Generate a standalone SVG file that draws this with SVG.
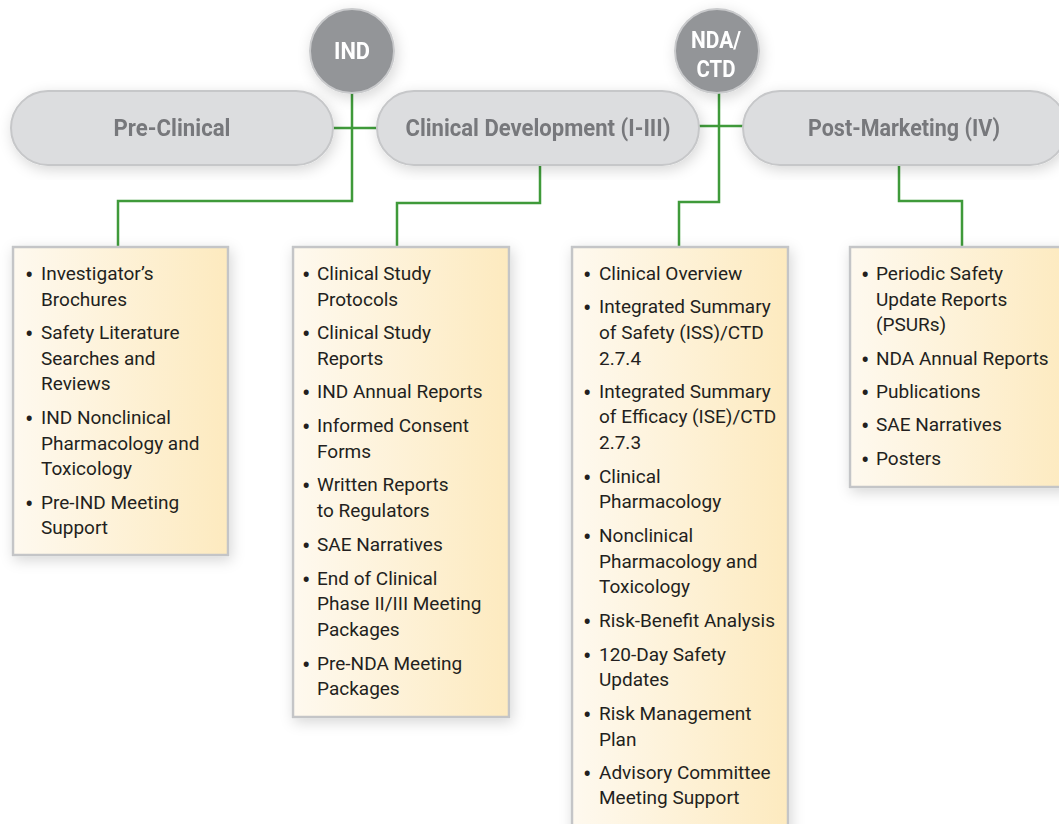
<svg xmlns="http://www.w3.org/2000/svg" width="1059" height="824" viewBox="0 0 1059 824">
<defs>
<filter id="sh" x="-20%" y="-20%" width="140%" height="140%">
<feDropShadow dx="2" dy="4" stdDeviation="7" flood-color="#000" flood-opacity="0.16"/>
</filter>
<linearGradient id="cream" x1="0" y1="0" x2="1" y2="0">
<stop offset="0" stop-color="#fef9ef"/>
<stop offset="1" stop-color="#fdeabf"/>
</linearGradient>
<style>
.pill{fill:#dcdddf;stroke:#c6c7c9;stroke-width:2}
.circ{fill:#939598;stroke:#c9cacc;stroke-width:2}
.box{fill:url(#cream);stroke:#c4c5c7;stroke-width:2.5}
.hd{font-family:Roboto,"Liberation Sans",sans-serif;font-weight:bold;font-size:23px;fill:#77787b;text-anchor:middle}
.ms{font-family:Roboto,"Liberation Sans",sans-serif;font-weight:bold;font-size:23px;fill:#ffffff;text-anchor:middle}
.it{font-family:Roboto,"Liberation Sans",sans-serif;font-size:19px;fill:#231f20}
.b{font-size:25px}
.con{fill:none;stroke:#3f9a3a;stroke-width:2.5}
</style>
</defs>
<rect width="1059" height="824" fill="#ffffff"/>

<g id="connectors">
<path class="con" d="M352 93 V201 H118 V246"/>
<path class="con" d="M333 128 H377"/>
<path class="con" d="M540 166 V203 H397 V246"/>
<path class="con" d="M719 93 V202 H679 V246"/>
<path class="con" d="M699 126 H743"/>
<path class="con" d="M899 166 V201 H962 V246"/>
</g>

<g id="pre-clinical" filter="url(#sh)">
<rect class="pill" x="11" y="91" width="322" height="74" rx="37"/>
<text class="hd" x="172" y="136" textLength="117" lengthAdjust="spacingAndGlyphs">Pre-Clinical</text>
</g>
<g id="clinical-development" filter="url(#sh)">
<rect class="pill" x="377" y="91" width="322" height="74" rx="37"/>
<text class="hd" x="538" y="136" textLength="265" lengthAdjust="spacingAndGlyphs">Clinical Development (I-III)</text>
</g>
<g id="post-marketing" filter="url(#sh)">
<rect class="pill" x="743" y="91" width="324" height="74" rx="37"/>
<text class="hd" x="904" y="136" textLength="192" lengthAdjust="spacingAndGlyphs">Post-Marketing (IV)</text>
</g>

<g id="ind" filter="url(#sh)">
<circle class="circ" cx="352" cy="51" r="42"/>
<text class="ms" x="352" y="59" textLength="36" lengthAdjust="spacingAndGlyphs">IND</text>
</g>
<g id="nda-ctd" filter="url(#sh)">
<circle class="circ" cx="717" cy="51" r="42"/>
<text class="ms" x="716" y="48" textLength="50" lengthAdjust="spacingAndGlyphs">NDA/</text>
<text class="ms" x="716" y="77" textLength="39" lengthAdjust="spacingAndGlyphs">CTD</text>
</g>

<g id="box-pre-clinical">
<rect class="box" x="13" y="247" width="215" height="308" filter="url(#sh)"/>
<text class="it">
<tspan class="b" x="25" y="284">•</tspan><tspan x="41" y="280">Investigator’s</tspan>
<tspan x="41" y="306">Brochures</tspan>
<tspan class="b" x="25" y="343">•</tspan><tspan x="41" y="339">Safety Literature</tspan>
<tspan x="41" y="365">Searches and</tspan>
<tspan x="41" y="390">Reviews</tspan>
<tspan class="b" x="25" y="428">•</tspan><tspan x="41" y="424">IND Nonclinical</tspan>
<tspan x="41" y="450">Pharmacology and</tspan>
<tspan x="41" y="475">Toxicology</tspan>
<tspan class="b" x="25" y="513">•</tspan><tspan x="41" y="509">Pre-IND Meeting</tspan>
<tspan x="41" y="534">Support</tspan>
</text>
</g>

<g id="box-clinical-development">
<rect class="box" x="293" y="247" width="216" height="470" filter="url(#sh)"/>
<text class="it">
<tspan class="b" x="302" y="284">•</tspan><tspan x="317" y="280">Clinical Study</tspan>
<tspan x="317" y="306">Protocols</tspan>
<tspan class="b" x="302" y="343">•</tspan><tspan x="317" y="339">Clinical Study</tspan>
<tspan x="317" y="365">Reports</tspan>
<tspan class="b" x="302" y="402">•</tspan><tspan x="317" y="398">IND Annual Reports</tspan>
<tspan class="b" x="302" y="436">•</tspan><tspan x="317" y="432">Informed Consent</tspan>
<tspan x="317" y="458">Forms</tspan>
<tspan class="b" x="302" y="495">•</tspan><tspan x="317" y="491">Written Reports</tspan>
<tspan x="317" y="517">to Regulators</tspan>
<tspan class="b" x="302" y="555">•</tspan><tspan x="317" y="551">SAE Narratives</tspan>
<tspan class="b" x="302" y="589">•</tspan><tspan x="317" y="585">End of Clinical</tspan>
<tspan x="317" y="610">Phase II/III Meeting</tspan>
<tspan x="317" y="636">Packages</tspan>
<tspan class="b" x="302" y="674">•</tspan><tspan x="317" y="670">Pre-NDA Meeting</tspan>
<tspan x="317" y="695">Packages</tspan>
</text>
</g>

<g id="box-nda-ctd">
<rect class="box" x="572" y="247" width="216" height="590" filter="url(#sh)"/>
<text class="it">
<tspan class="b" x="583" y="284">•</tspan><tspan x="599" y="280">Clinical Overview</tspan>
<tspan class="b" x="583" y="317">•</tspan><tspan x="599" y="313">Integrated Summary</tspan>
<tspan x="599" y="339">of Safety (ISS)/CTD</tspan>
<tspan x="599" y="365">2.7.4</tspan>
<tspan class="b" x="583" y="402">•</tspan><tspan x="599" y="398">Integrated Summary</tspan>
<tspan x="599" y="423">of Efficacy (ISE)/CTD</tspan>
<tspan x="599" y="449">2.7.3</tspan>
<tspan class="b" x="583" y="487">•</tspan><tspan x="599" y="483">Clinical</tspan>
<tspan x="599" y="508">Pharmacology</tspan>
<tspan class="b" x="583" y="546">•</tspan><tspan x="599" y="542">Nonclinical</tspan>
<tspan x="599" y="568">Pharmacology and</tspan>
<tspan x="599" y="593">Toxicology</tspan>
<tspan class="b" x="583" y="631">•</tspan><tspan x="599" y="627">Risk-Benefit Analysis</tspan>
<tspan class="b" x="583" y="665">•</tspan><tspan x="599" y="661">120-Day Safety</tspan>
<tspan x="599" y="686">Updates</tspan>
<tspan class="b" x="583" y="724">•</tspan><tspan x="599" y="720">Risk Management</tspan>
<tspan x="599" y="746">Plan</tspan>
<tspan class="b" x="583" y="783">•</tspan><tspan x="599" y="779">Advisory Committee</tspan>
<tspan x="599" y="804">Meeting Support</tspan>
</text>
</g>

<g id="box-post-marketing">
<rect class="box" x="850" y="247" width="220" height="240" filter="url(#sh)"/>
<text class="it">
<tspan class="b" x="861" y="284">•</tspan><tspan x="876" y="280">Periodic Safety</tspan>
<tspan x="876" y="306">Update Reports</tspan>
<tspan x="876" y="331">(PSURs)</tspan>
<tspan class="b" x="861" y="369">•</tspan><tspan x="876" y="365">NDA Annual Reports</tspan>
<tspan class="b" x="861" y="402">•</tspan><tspan x="876" y="398">Publications</tspan>
<tspan class="b" x="861" y="435">•</tspan><tspan x="876" y="431">SAE Narratives</tspan>
<tspan class="b" x="861" y="469">•</tspan><tspan x="876" y="465">Posters</tspan>
</text>
</g>
</svg>
